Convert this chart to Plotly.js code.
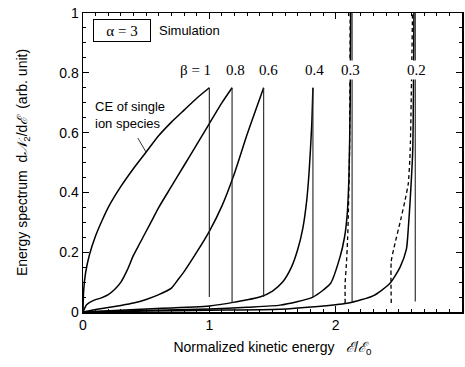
<!DOCTYPE html>
<html>
<head>
<meta charset="utf-8">
<script src="https://cdn.plot.ly/plotly-3.0.1.min.js"></script>
<style>html,body{margin:0;padding:0;background:#fff;}#chart{width:465px;height:367px;}</style>
</head>
<body>
<div id="chart"></div>
<script>
// beta = 1 (CE of single ion species)
const b10_x = [0, 0.005, 0.02, 0.05, 0.1, 0.15, 0.2, 0.3, 0.4, 0.5, 0.6, 0.7, 0.8, 0.9, 1.0];
const b10_y = [0, 0.07, 0.13, 0.19, 0.255, 0.305, 0.35, 0.42, 0.48, 0.535, 0.59, 0.635, 0.675, 0.715, 0.75];
// beta = 0.8
const b08_x = [0, 0.03, 0.08, 0.15, 0.2, 0.25, 0.3, 0.35, 0.4, 0.45, 0.5, 0.55, 0.6, 0.7, 0.8, 0.9, 1.0, 1.1, 1.18];
const b08_y = [0, 0.025, 0.038, 0.048, 0.058, 0.075, 0.10, 0.14, 0.19, 0.23, 0.27, 0.31, 0.35, 0.42, 0.49, 0.56, 0.63, 0.70, 0.75];
// beta = 0.6
const b06_x = [0, 0.1, 0.2, 0.3, 0.4, 0.5, 0.6, 0.7, 0.75, 0.8, 0.9, 1.0, 1.1, 1.2, 1.3, 1.43];
const b06_y = [0, 0.008, 0.015, 0.022, 0.03, 0.042, 0.058, 0.08, 0.107, 0.135, 0.2, 0.27, 0.355, 0.465, 0.595, 0.75];
// beta = 0.4
const b04_x = [0, 0.5, 1.0, 1.2, 1.4, 1.5, 1.58, 1.65, 1.70, 1.74, 1.77, 1.79, 1.81, 1.82];
const b04_y = [0, 0.01, 0.02, 0.033, 0.05, 0.07, 0.10, 0.15, 0.21, 0.28, 0.37, 0.47, 0.62, 0.75];
// beta = 0.3
const b03_x = [0, 0.5, 1.0, 1.3, 1.56, 1.82, 1.96, 2.035, 2.07, 2.09, 2.105, 2.115, 2.12];
const b03_y = [0, 0.005, 0.01, 0.016, 0.023, 0.05, 0.096, 0.185, 0.25, 0.32, 0.45, 0.7, 1.05];
const b03d_x = [2.075, 2.075, 2.085, 2.095, 2.10, 2.11, 2.115];
const b03d_y = [0.03, 0.097, 0.16, 0.25, 0.32, 0.54, 1.05];
// beta = 0.2
const b02_x = [0, 0.5, 1.0, 1.56, 2.09, 2.3, 2.43, 2.51, 2.56, 2.575, 2.59, 2.61, 2.62];
const b02_y = [0, 0.003, 0.006, 0.009, 0.029, 0.055, 0.096, 0.15, 0.21, 0.28, 0.375, 0.54, 1.05];
const b02d_x = [2.44, 2.44, 2.47, 2.51, 2.55, 2.575, 2.59, 2.61];
const b02d_y = [0.03, 0.17, 0.23, 0.30, 0.375, 0.43, 0.54, 1.05];
// cut-off (vertical drop) lines
const cut_x   = [1.0, 1.18, 1.43, 1.82, 2.13, 2.63];
const cut_top = [0.75, 0.75, 0.75, 0.75, 1.05, 1.05];
const cut_bot = [0.05, 0.03, 0.05, 0.05, 0.035, 0.035];
// labels
const beta_labels = ["β = 1", "0.8", "0.6", "0.4", "0.3", "0.2"];
const beta_label_x = [0.887, 1.21, 1.47, 1.83, 2.12, 2.64];
const beta_label_y = 0.81;

const solid = {color: '#000', width: 1.5};
const traces = [];
[[b10_x,b10_y],[b08_x,b08_y],[b06_x,b06_y],[b04_x,b04_y],[b03_x,b03_y],[b02_x,b02_y]].forEach(p => {
  traces.push({x: p[0], y: p[1], mode: 'lines', line: Object.assign({shape: 'spline', smoothing: 0.6}, solid), showlegend: false, hoverinfo: 'skip'});
});
[[b03d_x,b03d_y],[b02d_x,b02d_y]].forEach(p => {
  traces.push({x: p[0], y: p[1], mode: 'lines', line: {color: '#000', width: 1.3, dash: '4px,3px', shape: 'spline', smoothing: 0.5}, showlegend: false, hoverinfo: 'skip'});
});
cut_x.forEach((cx, i) => {
  traces.push({x: [cx, cx], y: [cut_bot[i], cut_top[i]], mode: 'lines', line: {color: '#222', width: 1.1}, showlegend: false, hoverinfo: 'skip'});
});

const annotations = beta_labels.map((t, i) => ({
  x: beta_label_x[i], y: beta_label_y, xref: 'x', yref: 'y', text: t, showarrow: false,
  font: {family: 'Liberation Serif, Times New Roman, serif', size: 15, color: '#000'},
  bgcolor: '#fff', xanchor: 'center', yanchor: 'middle', borderpad: 1
}));
annotations.push({
  x: 0.305, y: 0.94, xref: 'x', yref: 'y', text: 'α = 3', showarrow: false,
  font: {family: 'Liberation Serif, Times New Roman, serif', size: 15, color: '#000'},
  bordercolor: '#000', borderwidth: 1, borderpad: 2, width: 52, height: 17, bgcolor: '#fff'
});
annotations.push({
  x: 0.586, y: 0.94, xref: 'x', yref: 'y', text: 'Simulation', showarrow: false,
  font: {family: 'Liberation Sans, Arial, sans-serif', size: 13, color: '#000'},
  xanchor: 'left', yanchor: 'middle'
});
annotations.push({
  x: 0.08, y: 0.66, xref: 'x', yref: 'y', text: 'CE of single<br>ion species', showarrow: false,
  font: {family: 'Liberation Sans, Arial, sans-serif', size: 13, color: '#000'},
  xanchor: 'left', yanchor: 'middle', align: 'left'
});
annotations.push({
  x: 0.499, y: 0.535, xref: 'x', yref: 'y', text: ' ', showarrow: true, arrowhead: 0,
  arrowwidth: 0.8, arrowcolor: '#000', ax: -10, ay: -17, standoff: 0,
  font: {size: 2}
});

const axisCommon = {
  showgrid: false, zeroline: false, showline: true, linecolor: '#000', linewidth: 1.5,
  mirror: 'ticks', ticks: 'inside', ticklen: 6, tickwidth: 1, tickcolor: '#000',
  tickfont: {family: 'Liberation Sans, Arial, sans-serif', size: 14, color: '#000'}
};

const layout = {
  width: 465, height: 367,
  margin: {l: 83, r: 3, t: 13, b: 55},
  paper_bgcolor: '#fff', plot_bgcolor: '#fff',
  xaxis: Object.assign({}, axisCommon, {
    range: [0, 3], tickmode: 'linear', tick0: 0, dtick: 1,
    minor: {dtick: 0.1, ticklen: 3, tickcolor: '#000', ticks: 'inside', tickwidth: 1},
    title: {text: 'Normalized kinetic energy   <i>ℰ</i>/<i>ℰ</i><sub>0</sub>', standoff: 10,
      font: {family: 'Liberation Sans, Arial, sans-serif', size: 14, color: '#000'}}
  }),
  yaxis: Object.assign({}, axisCommon, {
    range: [0, 1], tickmode: 'linear', tick0: 0, dtick: 0.2,
    minor: {dtick: 0.05, ticklen: 3, tickcolor: '#000', ticks: 'inside', tickwidth: 1},
    title: {text: 'Energy spectrum  d<i>𝒩</i><sub>2</sub>/d<i>ℰ</i>  (arb. unit)', standoff: 28,
      font: {family: 'Liberation Sans, Arial, sans-serif', size: 14, color: '#000'}}
  }),
  annotations: annotations
};

Plotly.newPlot('chart', traces, layout, {displayModeBar: false, staticPlot: true});
</script>
</body>
</html>
